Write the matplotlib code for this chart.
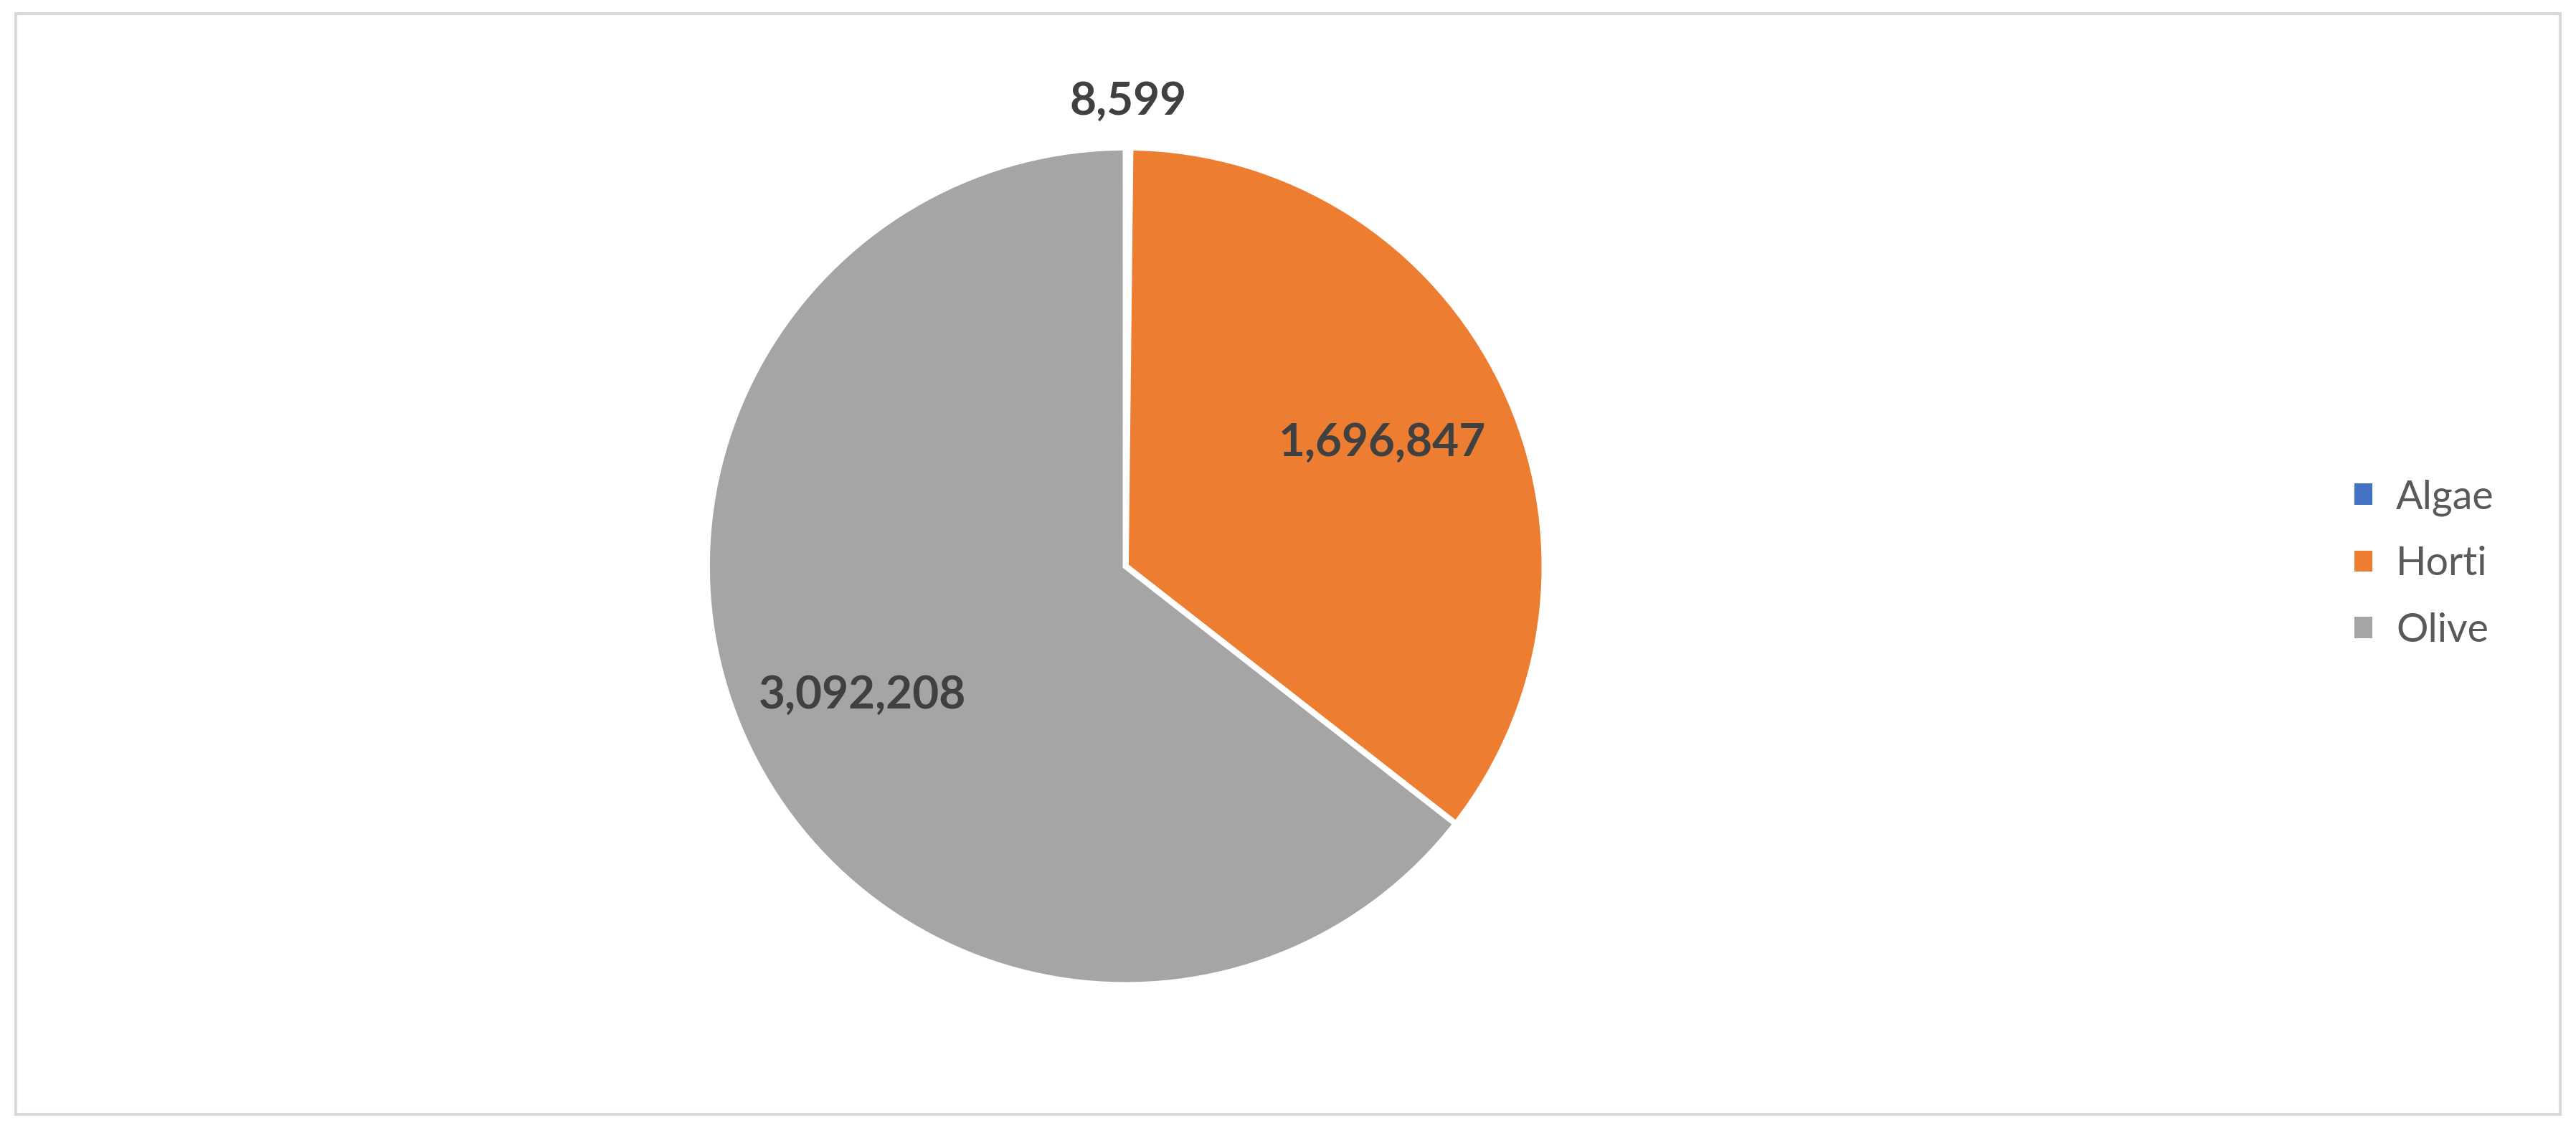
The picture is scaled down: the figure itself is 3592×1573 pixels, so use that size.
import matplotlib
matplotlib.use("Agg")
import matplotlib.pyplot as plt
import numpy as np
from matplotlib.patches import Rectangle

categories = ["Algae", "Horti", "Olive"]
values = [8599, 1696847, 3092208]
colors = ["#4472C4", "#ED7D31", "#A5A5A5"]
label_dist = [1.11, 0.68, 0.70]

W, H = 3592, 1573
fig = plt.figure(figsize=(W/100, H/100), dpi=100)
fig.patches.append(Rectangle((0.006, 0.012), 0.988, 0.976, transform=fig.transFigure,
                             fill=False, edgecolor="#D9D9D9", linewidth=3))
cx, cy, r = 0.437*W, 0.498*H, 584
ax = fig.add_axes([(cx-r)/W, (cy-r)/H, 2*r/W, 2*r/H])
wedges, _ = ax.pie(values, colors=colors, startangle=90, counterclock=False,
                   radius=1, wedgeprops=dict(edgecolor="white", linewidth=6))
ax.set_xlim(-1, 1); ax.set_ylim(-1, 1); ax.set_aspect("equal"); ax.axis("off")
for w, v, d in zip(wedges, values, label_dist):
    th = np.deg2rad((w.theta1 + w.theta2) / 2)
    ax.text(d*np.cos(th), d*np.sin(th), f"{v:,}", ha="center", va="center",
            fontsize=46, fontweight="bold", color="#404040", family="Lato")
leg = fig.legend(wedges, categories, loc="center left", bbox_to_anchor=(0.90, 0.5),
                 frameon=False, prop=dict(family="Lato", size=40), labelcolor="#595959",
                 handlelength=0.45, handleheight=0.45, handletextpad=0.6, labelspacing=0.75)
for h in leg.legend_handles:
    h.set_edgecolor("none")
fig.savefig("out.png", dpi=100, facecolor="white")
